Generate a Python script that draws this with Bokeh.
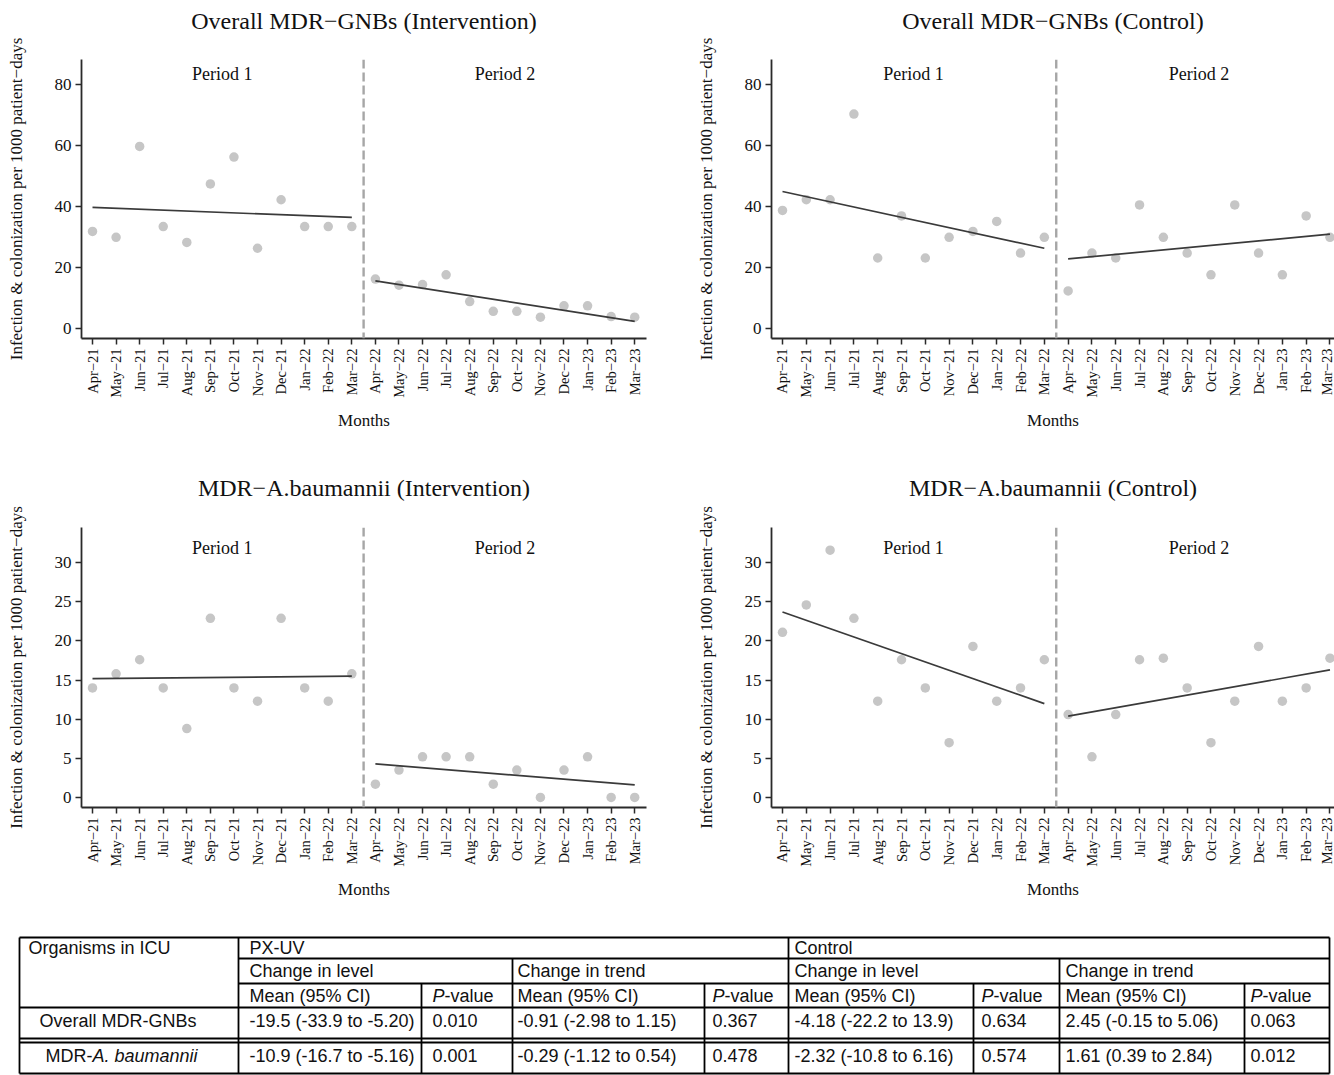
import numpy as np
from bokeh.plotting import figure
from bokeh.models import Range1d, FixedTicker, Span, Label, Title
from bokeh.layouts import column, row
from bokeh.embed import file_html
from bokeh.resources import INLINE
from bokeh.core.properties import value

# ---------------- data ----------------
months = ["Apr−21", "May−21", "Jun−21", "Jul−21", "Aug−21", "Sep−21",
          "Oct−21", "Nov−21", "Dec−21", "Jan−22", "Feb−22", "Mar−22",
          "Apr−22", "May−22", "Jun−22", "Jul−22", "Aug−22", "Sep−22",
          "Oct−22", "Nov−22", "Dec−22", "Jan−23", "Feb−23", "Mar−23"]

gnb_int = [31.7, 29.8, 59.6, 33.3, 28.1, 47.3, 56.1, 26.2, 42.1, 33.3, 33.3, 33.3,
           16.1, 14.1, 14.3, 17.5, 8.7, 5.5, 5.5, 3.6, 7.3, 7.3, 3.8, 3.6]
gnb_int_trend1 = [39.6, 36.3]
gnb_int_trend2 = [15.5, 2.2]

gnb_ctl = [38.6, 42.1, 42.1, 70.2, 23.0, 36.8, 23.0, 29.8, 31.7, 35.0, 24.6, 29.8,
           12.2, 24.6, 23.0, 40.4, 29.8, 24.6, 17.5, 40.4, 24.6, 17.5, 36.8, 29.8]
gnb_ctl_trend1 = [44.8, 26.2]
gnb_ctl_trend2 = [22.7, 30.8]

ab_int = [14.0, 15.8, 17.6, 14.0, 8.8, 22.9, 14.0, 12.3, 22.9, 14.0, 12.3, 15.8,
          1.7, 3.5, 5.2, 5.2, 5.2, 1.7, 3.5, 0.0, 3.5, 5.2, 0.0, 0.0]
ab_int_trend1 = [15.2, 15.5]
ab_int_trend2 = [4.3, 1.6]

ab_ctl = [21.1, 24.6, 31.6, 22.9, 12.3, 17.6, 14.0, 7.0, 19.3, 12.3, 14.0, 17.6,
          10.6, 5.2, 10.6, 17.6, 17.8, 14.0, 7.0, 12.3, 19.3, 12.3, 14.0, 17.8]
ab_ctl_trend1 = [23.7, 12.0]
ab_ctl_trend2 = [10.4, 16.3]

titles = ["Overall MDR−GNBs (Intervention)", "Overall MDR−GNBs (Control)",
          "MDR−A.baumannii (Intervention)", "MDR−A.baumannii (Control)"]
period_labels = ["Period 1", "Period 2"]
y_label = "Infection & colonization per 1000 patient−days"
x_label = "Months"
gnb_ticks = [0, 20, 40, 60, 80]
ab_ticks = [0, 5, 10, 15, 20, 25, 30]

# table texts
tbl_head1 = ["Organisms in ICU", "PX-UV", "Control"]
tbl_head2 = ["Change in level", "Change in trend", "Change in level", "Change in trend"]
tbl_mean = "Mean (95% CI)"
tbl_p_italic = "P"
tbl_p_rest = "-value"
tbl_row1_label = "Overall MDR-GNBs"
tbl_row2_label_a = "MDR-"
tbl_row2_label_b = "A. baumannii"
tbl_row1 = ["-19.5 (-33.9 to -5.20)", "0.010", "-0.91 (-2.98 to 1.15)", "0.367",
            "-4.18 (-22.2 to 13.9)", "0.634", "2.45 (-0.15 to 5.06)", "0.063"]
tbl_row2 = ["-10.9 (-16.7 to -5.16)", "0.001", "-0.29 (-1.12 to 0.54)", "0.478",
            "-2.32 (-10.8 to 6.16)", "0.574", "1.61 (0.39 to 2.84)", "0.012"]

# ---------------- styling ----------------
SERIF = "Liberation Serif"
SANS = "Liberation Sans"
PT_COLOR = "#c6c6c6"
LINE_COLOR = "#3a3a3a"
AX_COLOR = "#2a2a2a"


def panel(title, vals, tr1, tr2, ticks, ylim, xlim, w, h, bl, br, bt, bb,
          period_off, spacer):
    p = figure(width=w, height=h, x_range=Range1d(*xlim), y_range=Range1d(*ylim),
               output_backend="svg", toolbar_location=None, title=None,
               min_border_left=bl, min_border_right=br,
               min_border_top=bt, min_border_bottom=bb)
    p.outline_line_color = None
    p.grid.visible = False
    p.background_fill_color = "white"

    # blank (white) spacer panel next to the frame, real title above it
    p.add_layout(Title(text=".", text_font_size="2px", text_color="white",
                       standoff=spacer), "above")
    p.add_layout(Title(text=title, text_font=SERIF, text_font_size="24px",
                       text_font_style="normal", text_color="#111111",
                       align="center", standoff=0), "above")

    x = list(range(len(months)))
    n1 = 12
    p.scatter(x, vals, size=9.5, fill_color=PT_COLOR, line_color=None)
    p.line([x[0], x[n1 - 1]], tr1, line_color=LINE_COLOR, line_width=1.7)
    p.line([x[n1], x[-1]], tr2, line_color=LINE_COLOR, line_width=1.7)
    p.add_layout(Span(location=(n1 - 1 + n1) / 2, dimension="height",
                      line_color="#a6a6a6", line_width=2.4, line_dash="9 4"))

    frame_h = h - bt - bb
    ppu = frame_h / (ylim[1] - ylim[0])
    ylab = ylim[1] - period_off / ppu
    for lab, cx in zip(period_labels, [(n1 - 1) / 2, n1 + (len(months) - 1 - n1) / 2]):
        p.add_layout(Label(x=cx, y=ylab, text=lab, text_font=SERIF,
                           text_font_size="18px", text_align="center",
                           text_baseline="middle", text_color="#111111"))

    # axes
    p.xaxis.ticker = FixedTicker(ticks=x)
    p.xaxis.major_label_overrides = {i: m for i, m in enumerate(months)}
    p.xaxis.major_label_orientation = np.pi / 2
    p.yaxis.ticker = FixedTicker(ticks=ticks)
    for ax in (p.xaxis[0], p.yaxis[0]):
        ax.axis_line_color = AX_COLOR
        ax.axis_line_width = 1.8
        ax.major_tick_line_color = AX_COLOR
        ax.major_tick_line_width = 1.5
        ax.major_tick_out = 6
        ax.major_tick_in = 0
        ax.minor_tick_line_color = None
        ax.major_label_text_font = SERIF
        ax.major_label_text_color = "#111111"
        ax.axis_label_text_font = SERIF
        ax.axis_label_text_font_style = "normal"
        ax.axis_label_text_color = "#111111"
        ax.axis_label_text_font_size = "17px"
    p.xaxis.major_label_text_font_size = "14.5px"
    p.xaxis.major_label_standoff = 4
    p.xaxis.axis_label = x_label
    p.xaxis.axis_label_standoff = 10
    p.yaxis.major_label_text_font_size = "17px"
    p.yaxis.major_label_standoff = 4
    p.yaxis.axis_label = y_label
    p.yaxis.axis_label_standoff = 26
    return p


LW, RW = 671, 663
H1, H2 = 467, 459
xl_left = (-0.467, 23.5)
xl_right = (-0.462, 23.19)
yl_gnb = (-3.4, 88.1)
yl_ab = (-1.28, 34.5)

p1 = panel(titles[0], gnb_int, gnb_int_trend1, gnb_int_trend2, gnb_ticks, yl_gnb,
           xl_left, LW, H1, 81, 25, 59, 129, 14, 23)
p2 = panel(titles[1], gnb_ctl, gnb_ctl_trend1, gnb_ctl_trend2, gnb_ticks, yl_gnb,
           xl_right, RW, H1, 100, 0, 59, 129, 14, 23)
p3 = panel(titles[2], ab_int, ab_int_trend1, ab_int_trend2, ab_ticks, yl_ab,
           xl_left, LW, H2, 81, 25, 60, 119, 20, 24)
p4 = panel(titles[3], ab_ctl, ab_ctl_trend1, ab_ctl_trend2, ab_ticks, yl_ab,
           xl_right, RW, H2, 100, 0, 60, 119, 20, 24)

# ---------------- table ----------------
TOP = H1 + H2
TH = 1075 - TOP
pt = figure(width=LW + RW, height=TH, x_range=Range1d(0, LW + RW),
            y_range=Range1d(TOP + TH, TOP), output_backend="svg",
            toolbar_location=None, min_border=0,
            x_axis_location=None, y_axis_location=None)
pt.outline_line_color = None
pt.grid.visible = False

C = [19, 238, 421, 512, 704, 788, 973, 1059, 1244, 1329]
R = [937, 958, 983, 1007, 1038, 1042, 1073]

hx0 = [C[0], C[1], C[1], C[0], C[0], C[0], C[0]]
hy = R
pt.segment(x0=hx0, y0=hy, x1=[C[-1]] * len(hy), y1=hy, line_color="black", line_width=1.8)
vx = C
vy0 = [R[0], R[0], R[2], R[1], R[2], R[0], R[2], R[1], R[2], R[0]]
pt.segment(x0=vx, y0=vy0, x1=vx, y1=[R[-1]] * len(vx), line_color="black", line_width=1.8)

FSN = 18
FS = f"{FSN}px"
PAD = 8


def txt(xs, ys, texts, style="normal"):
    pt.text(x=xs, y=ys, text=texts, text_font=value(SANS), text_font_size=FS,
            text_font_style=style, text_baseline="middle", text_align="left",
            text_color="#111111")


yc1 = (R[0] + R[1]) / 2
yc2 = (R[1] + R[2]) / 2
yc3 = (R[2] + R[3]) / 2
yc4 = R[3] + 13
yc5 = R[5] + 13

txt([28, C[1] + PAD + 3, C[5] + PAD - 2], [yc1] * 3, tbl_head1)
head_x = [C[1] + PAD + 3, C[3] + PAD - 3, C[5] + PAD - 2, C[7] + PAD - 2]
txt(head_x, [yc2] * 4, tbl_head2)
mean_x = head_x
p_x = [C[2] + PAD + 3, C[4] + PAD, C[6] + PAD, C[8] + PAD - 2]
txt(mean_x, [yc3] * 4, [tbl_mean] * 4)
txt(p_x, [yc3] * 4, [tbl_p_italic] * 4, style="italic")
txt([px + 0.667 * FSN for px in p_x], [yc3] * 4, [tbl_p_rest] * 4)
cell_x = [val for pair in zip(mean_x, p_x) for val in pair]
txt(cell_x, [yc4] * 8, tbl_row1)
txt(cell_x, [yc5] * 8, tbl_row2)
txt([39], [yc4], [tbl_row1_label])
txt([45], [yc5], [tbl_row2_label_a])
txt([45 + 2.61 * FSN], [yc5], [tbl_row2_label_b], style="italic")

layout = column(row(p1, p2), row(p3, p4), pt)
open("out.html", "w").write(file_html(layout, INLINE))
